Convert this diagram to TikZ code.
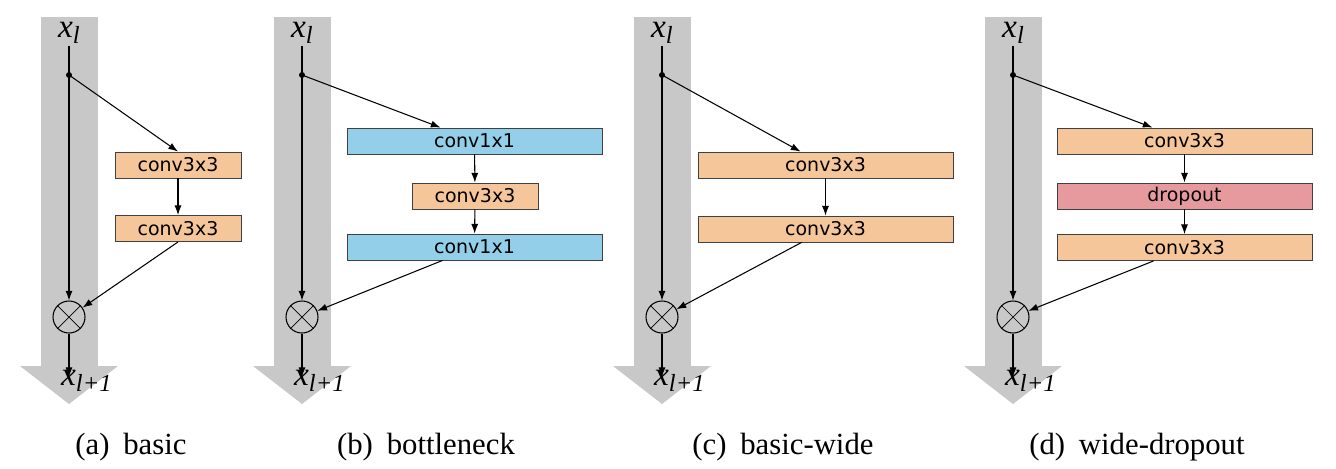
\documentclass[tikz,border=0pt]{standalone}
\usepackage{fontspec}
\setmainfont{Liberation Serif}
\newfontfamily\boxfont{DejaVu Sans}
\usetikzlibrary{arrows.meta,calc}

\definecolor{convorange}{RGB}{245,198,153}
\definecolor{convblue}{RGB}{147,207,232}
\definecolor{dropred}{RGB}{231,154,157}
\definecolor{shortgray}{RGB}{200,200,200}

% input and output labels
\newcommand{\xin}{\textit{x}\raisebox{-3.5pt}{\fontsize{14}{14}\selectfont\textit{l}}}
\newcommand{\xout}{\textit{x}\raisebox{-3.5pt}{\fontsize{14}{14}\selectfont\textit{l+1}}}

\tikzset{
  shortcut/.style={fill=shortgray},
  xlabel/.style={inner sep=1pt, font=\fontsize{19}{20}\selectfont},
  block/.style={draw=black!75, line width=0.5pt, minimum height=0.52cm, inner sep=0pt,
    font=\boxfont\fontsize{10.8}{12}\selectfont},
  narrow/.style={minimum width=2.52cm},
  wide/.style={minimum width=5.1cm},
  orangebox/.style={block, fill=convorange},
  bluebox/.style={block, fill=convblue},
  redbox/.style={block, fill=dropred},
  addnode/.style={circle, draw, line width=0.6pt, minimum size=0.64cm, inner sep=0pt},
  arr/.style={-{Latex[length=5.5pt,width=4pt]}, line width=0.6pt},
  caption/.style={anchor=base, font=\fontsize{17.5}{20}\selectfont},
}

\begin{document}
\begin{tikzpicture}[x=0.02cm, y=-0.02cm]
\useasboundingbox (0,0) rectangle (1336,468);

% Draw the grey shortcut columns
\foreach \m in {69,302,662,1013} {
  \fill[shortcut] (\m-28.5,17) rectangle (\m+28.5,366);
  \fill[shortcut] (\m-49,366) -- (\m+49,366) -- (\m,404) -- cycle;
}

% (a) basic
\node[xlabel] (xa) at (69,33) {\xin};
\coordinate (sa) at (69,75);
\fill (sa) circle (1.7pt);
\node[orangebox, narrow] (a1) at (178,165) {conv3x3};
\node[orangebox, narrow] (a2) at (178,228.5) {conv3x3};
\node[addnode] (pa) at (69,317) {};
\draw (pa.north west) -- (pa.south east) (pa.north east) -- (pa.south west);
\coordinate (ea) at (69,377);
\node[xlabel, anchor=west] (oa) at (59,381) {\xout};
\draw[line width=0.6pt] (xa.south) -- (sa);
\draw[arr] (sa) -- (pa);
\draw[arr] (sa) -- (a1.north);
\draw[arr] (a1) -- (a2);
\draw[arr] (a2.south) -- (pa);
\draw[arr] (pa) -- (ea);

% (b) bottleneck
\node[xlabel] (xb) at (302,33) {\xin};
\coordinate (sb) at (302,75);
\fill (sb) circle (1.7pt);
\node[bluebox, wide] (b1) at (474.5,141) {conv1x1};
\node[orangebox, narrow] (b2) at (475,196) {conv3x3};
\node[bluebox, wide] (b3) at (474.5,247) {conv1x1};
\node[addnode] (pb) at (302,317) {};
\draw (pb.north west) -- (pb.south east) (pb.north east) -- (pb.south west);
\coordinate (eb) at (302,377);
\node[xlabel, anchor=west] (ob) at (292,381) {\xout};
\draw[line width=0.6pt] (xb.south) -- (sb);
\draw[arr] (sb) -- (pb);
\draw[arr] (sb) -- ($(b1.north)+(-34,0)$);
\draw[arr] (b1) -- (b2);
\draw[arr] (b2) -- (b3);
\draw ($(b3.south)+(-32,0)$) edge[arr] (pb);
\draw[arr] (pb) -- (eb);

% (c) basic-wide
\node[xlabel] (xc) at (662,33) {\xin};
\coordinate (sc) at (662,75);
\fill (sc) circle (1.7pt);
\node[orangebox, wide] (c1) at (825.5,165) {conv3x3};
\node[orangebox, wide] (c2) at (825.5,229) {conv3x3};
\node[addnode] (pc) at (662,317) {};
\draw (pc.north west) -- (pc.south east) (pc.north east) -- (pc.south west);
\coordinate (ec) at (662,377);
\node[xlabel, anchor=west] (oc) at (652,381) {\xout};
\draw[line width=0.6pt] (xc.south) -- (sc);
\draw[arr] (sc) -- (pc);
\draw[arr] (sc) -- ($(c1.north)+(-25,0)$);
\draw[arr] (c1) -- (c2);
\draw ($(c2.south)+(-24,0)$) edge[arr] (pc);
\draw[arr] (pc) -- (ec);

% (d) wide-dropout
\node[xlabel] (xd) at (1013,33) {\xin};
\coordinate (sd) at (1013,75);
\fill (sd) circle (1.7pt);
\node[orangebox, wide] (d1) at (1184.5,141) {conv3x3};
\node[redbox, wide] (d2) at (1184.5,196) {dropout};
\node[orangebox, wide] (d3) at (1184.5,247.5) {conv3x3};
\node[addnode] (pd) at (1013,317) {};
\draw (pd.north west) -- (pd.south east) (pd.north east) -- (pd.south west);
\coordinate (ed) at (1013,377);
\node[xlabel, anchor=west] (od) at (1003,381) {\xout};
\draw[line width=0.6pt] (xd.south) -- (sd);
\draw[arr] (sd) -- (pd);
\draw[arr] (sd) -- ($(d1.north)+(-32,0)$);
\draw[arr] (d1) -- (d2);
\draw[arr] (d2) -- (d3);
\draw ($(d3.south)+(-31,0)$) edge[arr] (pd);
\draw[arr] (pd) -- (ed);

% captions
\node[caption] (capa) at (131,454) {(a)\hspace{0.45em}basic};
\node[caption] (capb) at (426,454) {(b)\hspace{0.45em}bottleneck};
\node[caption] (capc) at (783,454) {(c)\hspace{0.45em}basic-wide};
\node[caption] (capd) at (1137,454) {(d)\hspace{0.45em}wide-dropout};
\end{tikzpicture}
\end{document}
